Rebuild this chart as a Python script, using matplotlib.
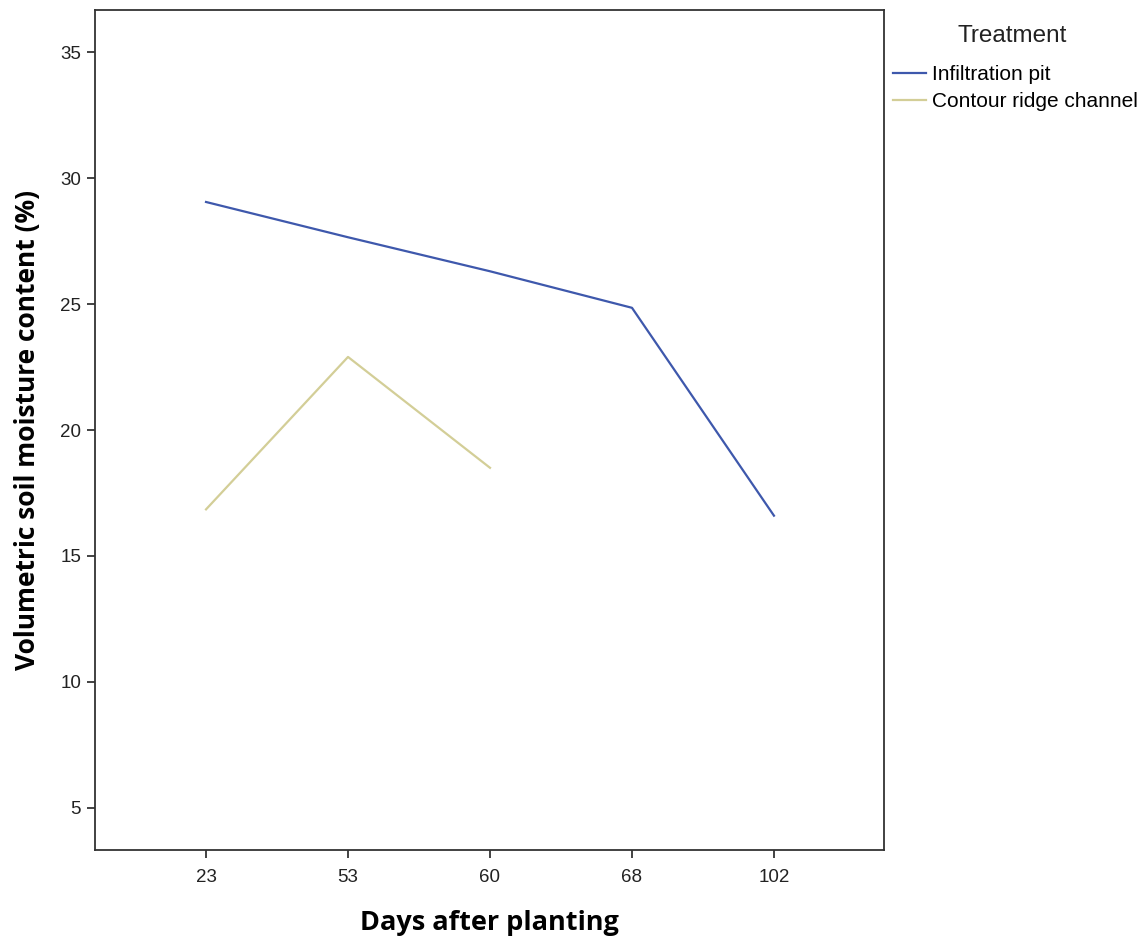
import matplotlib
matplotlib.use("Agg")
import matplotlib.pyplot as plt
import numpy as np

days = ["23", "53", "60", "68", "102"]
infiltration_pit = [29.05, 27.65, 26.3, 24.85, 16.6]
contour_ridge = [16.85, 22.9, 18.5]
yticks = [5, 10, 15, 20, 25, 30, 35]

plt.rcParams['font.family'] = ['Liberation Sans', 'DejaVu Sans']

fig = plt.figure(figsize=(11.4, 9.4), dpi=100)
ax = fig.add_axes([95/1140, 1 - 850/940, (884-95)/1140, (850-10)/940])

x = np.arange(len(days))
ax.plot(x, infiltration_pit, color='#3E58AC', lw=1.6, label='Infiltration pit')
ax.plot(x[:len(contour_ridge)], contour_ridge, color='#D3CE97', lw=1.6, label='Contour ridge channel')

ax.set_xlim(-0.782, 4.775)
ax.set_ylim(3.33, 36.67)
ax.set_xticks(x)
ax.set_xticklabels(days)
ax.set_yticks(yticks)
ax.tick_params(direction='out', length=6, width=1.2, labelsize=13.5, colors='#222222', pad=4)
ax.tick_params(axis='x', pad=8)
for s in ax.spines.values():
    s.set_linewidth(1.3)
    s.set_color('#333333')

ax.set_xlabel('Days after planting', fontsize=19.5, fontweight='bold', family=['Open Sans', 'DejaVu Sans'], labelpad=17)
ax.set_ylabel('Volumetric soil moisture content (%)', fontsize=19, fontweight='bold', family=['Open Sans', 'DejaVu Sans'], va='center')
ax.yaxis.set_label_coords((28 - 95) / 789, 0.5)

fig.text(1012/1140, 1 - 36/940, 'Treatment', ha='center', va='center', fontsize=17.5, color='#222222')
leg = fig.legend(loc='upper left', bbox_to_anchor=(893/1140, 1 - 65/940), frameon=False,
                 fontsize=15, handlelength=1.6, handletextpad=0.25, labelspacing=0.4,
                 borderpad=0, borderaxespad=0)

fig.savefig('out.png', dpi=100)
